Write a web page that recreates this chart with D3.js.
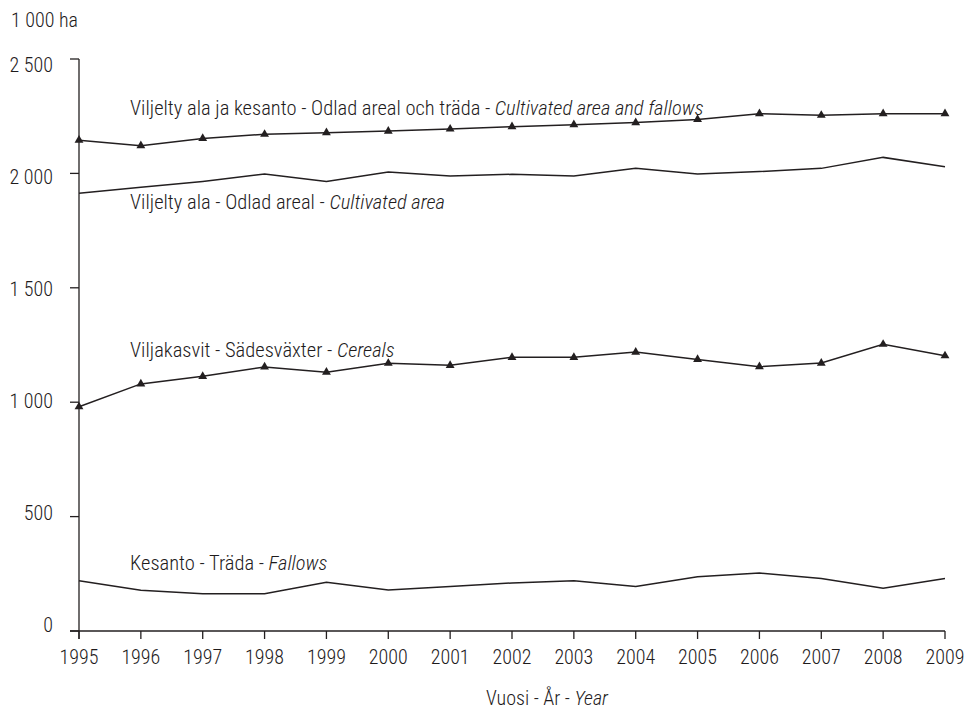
<!DOCTYPE html>
<html><head><meta charset="utf-8">
<script src="https://cdn.jsdelivr.net/npm/d3@7"></script>
<style>
body{margin:0;background:#fff;}
svg text{font-family:"Roboto Condensed","Liberation Sans Narrow","Arial Narrow",sans-serif;font-weight:300;fill:#1e1b1c;}
</style></head>
<body><svg id="c" width="967" height="711"></svg>
<script>
const years = [1995,1996,1997,1998,1999,2000,2001,2002,2003,2004,2005,2006,2007,2008,2009];
const totalArea = [2145,2121,2153,2171,2178,2185,2194,2204,2213,2222,2236,2261,2254,2261,2261];
const cultivated = [1913,1939,1965,1997,1965,2006,1989,1996,1989,2022,1997,2008,2022,2070,2029];
const cereals = [980,1080,1113,1154,1131,1170,1161,1196,1196,1219,1187,1155,1171,1253,1203];
const fallows = [220,178,163,163,213,179,195,210,220,195,237,253,229,187,229];
const yTicks = [0,500,1000,1500,2000,2500];
const yTickLabels = ["0","500","1 000","1 500","2 000","2 500"];
const seriesLabels = [
  {fi:"Viljelty ala ja kesanto - Odlad areal och träda - ", en:"Cultivated area and fallows"},
  {fi:"Viljelty ala - Odlad areal - ", en:"Cultivated area"},
  {fi:"Viljakasvit - Sädesväxter - ", en:"Cereals"},
  {fi:"Kesanto - Träda - ", en:"Fallows"}
];
const yUnit = "1 000 ha";
const xTitle = {fi:"Vuosi - År - ", en:"Year"};

const svg = d3.select("#c");
const ink = "#231f20";
const x = d3.scaleLinear().domain([1995,2009]).range([79,945]);
const y = d3.scaleLinear().domain([0,2500]).range([631,59]);

// axes
svg.append("line").attr("x1",x(1995)).attr("x2",x(1995)).attr("y1",y(2500)).attr("y2",y(0)+8).attr("stroke",ink).attr("stroke-width",1.3);
svg.append("line").attr("x1",x(1995)-9).attr("x2",x(2009)).attr("y1",y(0)).attr("y2",y(0)).attr("stroke",ink).attr("stroke-width",1.3);
svg.selectAll(".yt").data(yTicks).enter().append("line")
  .attr("x1",x(1995)-9).attr("x2",x(1995)).attr("y1",d=>y(d)).attr("y2",d=>y(d)).attr("stroke",ink).attr("stroke-width",1.3);
svg.selectAll(".xt").data(years).enter().append("line")
  .attr("x1",d=>x(d)).attr("x2",d=>x(d)).attr("y1",y(0)).attr("y2",y(0)+8).attr("stroke",ink).attr("stroke-width",1.3);

svg.selectAll(".yl").data(yTicks).enter().append("text")
  .attr("x",53).attr("y",d=>y(d) - 6.5 + d/2500*12.8)
  .attr("dy","0.35em").attr("text-anchor","end").attr("font-size",20)
  .text((d,i)=>yTickLabels[i]);
svg.selectAll(".xl").data(years).enter().append("text")
  .attr("x",d=>x(d)).attr("y",664).attr("text-anchor","middle").attr("font-size",20)
  .text(d=>d);

svg.append("text").attr("x",11).attr("y",27).attr("font-size",20).text(yUnit);
const xt = svg.append("text").attr("x",486).attr("y",705).attr("font-size",20);
xt.append("tspan").text(xTitle.fi);
xt.append("tspan").attr("font-style","italic").text(xTitle.en);

// lines
const line = d3.line().x((d,i)=>x(years[i])).y(d=>y(d));
const series = [
  {v:totalArea, marker:true},
  {v:cultivated, marker:false},
  {v:cereals, marker:true},
  {v:fallows, marker:false}
];
series.forEach(s=>{
  svg.append("path").attr("d",line(s.v)).attr("fill","none").attr("stroke",ink).attr("stroke-width",1.5);
  if(s.marker){
    svg.selectAll(null).data(s.v).enter().append("path")
      .attr("d",d3.symbol().type(d3.symbolTriangle).size(34))
      .attr("transform",(d,i)=>`translate(${x(years[i])},${y(d)})`)
      .attr("fill",ink);
  }
});

// series labels
const labelY = [115,209,357,570];
seriesLabels.forEach((l,i)=>{
  const t = svg.append("text").attr("x",130).attr("y",labelY[i]).attr("font-size",20.5);
  t.append("tspan").text(l.fi);
  t.append("tspan").attr("font-style","italic").text(l.en);
});
</script></body></html>
